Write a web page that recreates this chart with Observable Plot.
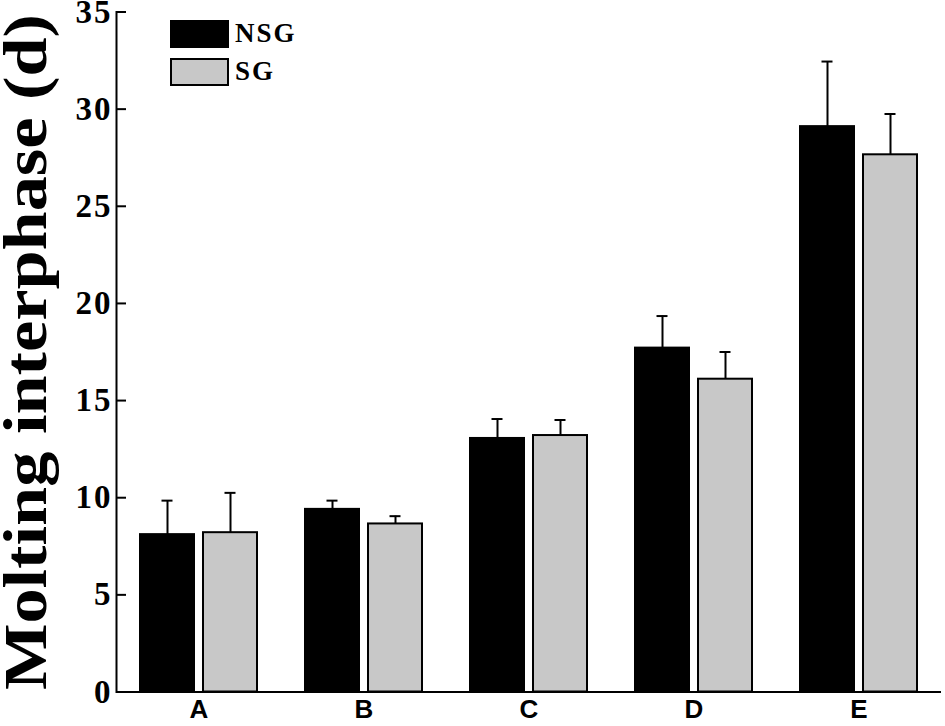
<!DOCTYPE html>
<html><head><meta charset="utf-8">
<script src="https://cdn.jsdelivr.net/npm/d3@7"></script>
<script src="https://cdn.jsdelivr.net/npm/@observablehq/plot@0.6"></script>
<style>
body{margin:0;background:#fff;}
#wrap{position:relative;width:945px;height:726px;overflow:hidden;}
#wrap svg{overflow:visible;}
#wrap g[aria-label="y-axis tick label"] text{letter-spacing:2px;}
.legbox{position:absolute;box-sizing:border-box;border:2px solid #000;}
.legtxt{position:absolute;font-family:"Liberation Serif","Times New Roman",serif;font-weight:bold;font-size:27px;letter-spacing:2px;line-height:1;color:#000;}
</style></head><body><div id="wrap"></div>
<script>
const groups = ["A", "B", "C", "D", "E"];
const seriesNames = ["NSG", "SG"];
const seriesColors = ["#000000", "#c8c8c8"];
const nsgMean = [8.1, 9.4, 13.05, 17.7, 29.1];
const nsgSD = [1.75, 0.45, 1.0, 1.65, 3.35];
const sgMean = [8.2, 8.65, 13.2, 16.1, 27.65];
const sgSD = [2.05, 0.4, 0.8, 1.4, 2.1];
const yTicks = [0, 5, 10, 15, 20, 25, 30, 35];
const yLabel = "Molting interphase (d)";

const nsgRows = groups.map((g, i) => ({group: g, mean: nsgMean[i], sd: nsgSD[i]}));
const sgRows = groups.map((g, i) => ({group: g, mean: sgMean[i], sd: sgSD[i]}));

const serif = "Liberation Serif, Times New Roman, serif";
const sans = "Liberation Sans, Arial, sans-serif";

const chart = Plot.plot({
  width: 945,
  height: 726,
  marginTop: 11.5,
  marginBottom: 34.5,
  marginLeft: 116,
  marginRight: 4,
  style: {background: "#fff", color: "#000"},
  x: {type: "band", domain: groups, padding: 0},
  y: {domain: [0, 35], ticks: yTicks},
  marks: [
    Plot.barY(nsgRows, {x: "group", y: "mean", fill: seriesColors[0], stroke: "#000", strokeWidth: 2, insetLeft: 24, insetRight: 87}),
    Plot.barY(sgRows, {x: "group", y: "mean", fill: seriesColors[1], stroke: "#000", strokeWidth: 2, insetLeft: 87, insetRight: 24}),
    Plot.ruleX(nsgRows, {x: "group", y1: "mean", y2: d => d.mean + d.sd, dx: -31.5, strokeWidth: 2}),
    Plot.ruleX(sgRows, {x: "group", y1: "mean", y2: d => d.mean + d.sd, dx: 31.5, strokeWidth: 2}),
    Plot.tickY(nsgRows, {x: "group", y: d => d.mean + d.sd, insetLeft: 45.5, insetRight: 108.5, strokeWidth: 2}),
    Plot.tickY(sgRows, {x: "group", y: d => d.mean + d.sd, insetLeft: 108.5, insetRight: 45.5, strokeWidth: 2}),
    Plot.axisY({ticks: yTicks, tickSize: -10, tickPadding: 14, strokeWidth: 2, fontSize: 33, fontWeight: "bold", fontFamily: serif, label: null}),
    Plot.axisX({tickSize: 0, tickPadding: 8, fontSize: 26, fontWeight: "bold", fontFamily: sans, label: null}),
    Plot.ruleY([0], {strokeWidth: 2}),
    Plot.frame({anchor: "left", strokeWidth: 2}),
    Plot.text([yLabel], {text: d => d, frameAnchor: "left", textAnchor: "middle", rotate: -90, dx: -71, lineAnchor: "bottom", fontSize: 62, fontWeight: "bold", fontFamily: serif})
  ]
});

// stretch the y title to the reference's length
d3.select(chart).selectAll('g[aria-label="text"] text')
  .attr("textLength", 676)
  .attr("lengthAdjust", "spacingAndGlyphs");

const wrap = document.getElementById("wrap");
wrap.appendChild(chart);

// legend
const legTop = [20, 58];
seriesNames.forEach((name, i) => {
  const b = document.createElement("div");
  b.className = "legbox";
  b.style.left = "170px"; b.style.top = legTop[i] + "px";
  b.style.width = "59px"; b.style.height = "28px";
  b.style.background = seriesColors[i];
  wrap.appendChild(b);
  const t = document.createElement("div");
  t.className = "legtxt";
  t.textContent = name;
  t.style.left = "235px"; t.style.top = (legTop[i] + 0) + "px";
  wrap.appendChild(t);
});
</script></body></html>
